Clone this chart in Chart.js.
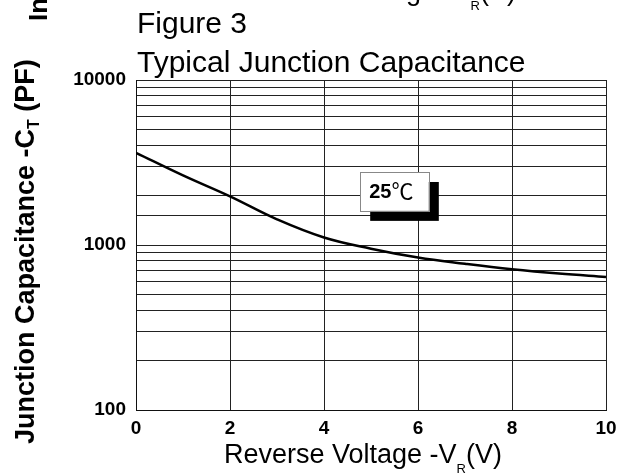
<!DOCTYPE html>
<html>
<head>
<meta charset="utf-8">
<script src="https://cdn.jsdelivr.net/npm/chart.js@4/dist/chart.umd.min.js"></script>
<style>
  body { margin: 0; background: #fff; }
  #chartDiv { display: block; }
</style>
</head>
<body>
<canvas id="chartDiv" width="627" height="475"></canvas>
<script>
// data
const voltage = [0, 1, 2, 3, 4, 5, 6, 7, 8, 9, 10];
const capacitance = [3620, 2640, 1970, 1430, 1110, 950, 840, 770, 713, 671, 640];
const yLabelled = [100, 1000, 10000];
const tempLabel = ['25', '℃'];
// label box corners in data units (left/right V, top/bottom pF)
const tempBoxX = [4.77, 6.23];
const tempBoxY = [2770, 1610];

const FONT = "'Liberation Sans', Arial, sans-serif";

const textPlugin = {
  id: 'texts',
  afterDraw(chart) {
    const ctx = chart.ctx;
    const xs = chart.scales.x, ys = chart.scales.y;
    ctx.save();
    ctx.fillStyle = '#000';
    ctx.textBaseline = 'alphabetic';
    ctx.textAlign = 'left';

    // titles
    ctx.font = '30px ' + FONT;
    ctx.fillText('Figure 3', 137, 33);
    ctx.fillText('Typical Junction Capacitance', 137, 72);

    // x axis title with subscript
    const drawXTitle = (x, y) => {
      ctx.font = '27px ' + FONT;
      ctx.fillText('Reverse Voltage -V', x, y);
      let w = ctx.measureText('Reverse Voltage -V').width;
      ctx.font = '13px ' + FONT;
      ctx.fillText('R', x + w, y + 10);
      w += ctx.measureText('R').width;
      ctx.font = '27px ' + FONT;
      ctx.fillText('(V)', x + w, y);
    };
    drawXTitle(224, 463);
    // cut-off title from the figure above
    drawXTitle(238, 0);

    // rotated y axis title
    const drawYTitle = (x, y, parts) => {
      ctx.save();
      ctx.translate(x, y);
      ctx.rotate(-Math.PI / 2);
      let pos = 0;
      parts.forEach(p => {
        ctx.font = p.font;
        ctx.fillText(p.t, pos, p.dy || 0);
        pos += ctx.measureText(p.t).width;
      });
      ctx.restore();
    };
    drawYTitle(34, 444, [
      { t: 'Junction Capacitance -C', font: 'bold 27px ' + FONT },
      { t: 'T', font: 'bold 16px ' + FONT, dy: 5 },
      { t: ' (PF)', font: 'bold 27px ' + FONT }
    ]);
    drawYTitle(47, 21, [
      { t: 'Instantaneous Forward Current', font: 'bold 26px ' + FONT }
    ]);

    // 25C label with shadow
    const bx0 = xs.getPixelForValue(tempBoxX[0]);
    const bx1 = xs.getPixelForValue(tempBoxX[1]);
    const by0 = ys.getPixelForValue(tempBoxY[0]);
    const by1 = ys.getPixelForValue(tempBoxY[1]);
    ctx.fillStyle = '#000';
    ctx.fillRect(bx0 + 10, by0 + 10, bx1 - bx0, by1 - by0);
    ctx.fillStyle = '#fff';
    ctx.fillRect(bx0, by0, bx1 - bx0, by1 - by0);
    ctx.strokeStyle = '#888';
    ctx.lineWidth = 1;
    ctx.strokeRect(Math.round(bx0) + 0.5, Math.round(by0) + 0.5, Math.round(bx1 - bx0), Math.round(by1 - by0));
    ctx.fillStyle = '#000';
    ctx.font = 'bold 20px ' + FONT;
    ctx.fillText(tempLabel[0], bx0 + 9, by0 + 26);
    const w25 = ctx.measureText(tempLabel[0]).width;
    ctx.font = "22px 'Noto Sans CJK SC', 'DejaVu Sans', sans-serif";
    ctx.fillText(tempLabel[1], bx0 + 9 + w25, by0 + 27);
    ctx.restore();
  }
};

const chart = new Chart(document.getElementById('chartDiv'), {
  type: 'line',
  data: {
    datasets: [{
      data: voltage.map((v, i) => ({ x: v, y: capacitance[i] })),
      borderColor: '#000',
      borderWidth: 2.5,
      pointRadius: 0,
      fill: false,
      tension: 0.4
    }]
  },
  options: {
    responsive: false,
    animation: false,
    layout: { padding: { left: 0, right: 21, top: 80, bottom: 0 } },
    plugins: {
      legend: { display: false },
      tooltip: { enabled: false }
    },
    scales: {
      x: {
        type: 'linear',
        min: 0,
        max: 10,
        grid: { color: '#222', lineWidth: 1, drawTicks: false },
        border: { color: '#111', width: 1 },
        ticks: {
          stepSize: 2,
          maxRotation: 0,
          padding: 7,
          color: '#000',
          font: { family: FONT, size: 19, weight: 'bold' }
        },
        afterFit(scale) { scale.height = 65; }
      },
      y: {
        type: 'logarithmic',
        min: 100,
        max: 10000,
        grid: { color: '#222', lineWidth: 1, drawTicks: false },
        border: { color: '#111', width: 1 },
        ticks: {
          autoSkip: false,
          padding: 10,
          color: '#000',
          font: { family: FONT, size: 19, weight: 'bold' },
          callback: v => yLabelled.includes(v) ? String(v) : ''
        },
        afterFit(scale) { scale.width = 136; }
      }
    }
  },
  plugins: [textPlugin]
});
</script>
</body>
</html>
